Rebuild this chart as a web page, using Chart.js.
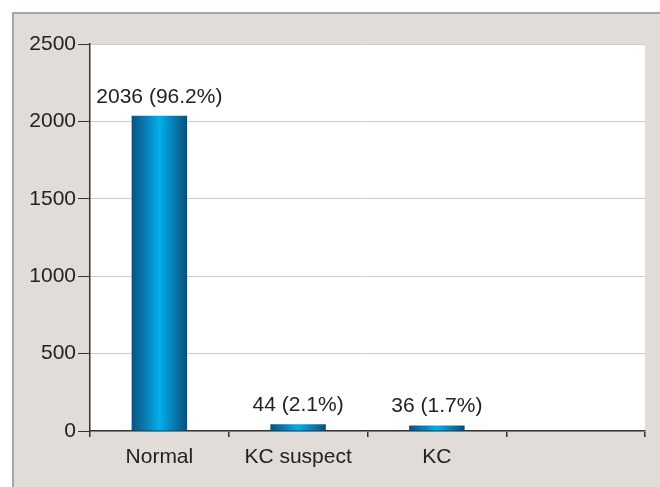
<!DOCTYPE html>
<html>
<head>
<meta charset="utf-8">
<script src="https://cdn.jsdelivr.net/npm/chart.js@4"></script>
<style>
html,body{margin:0;padding:0;background:#fff;}
#wrap{width:660px;height:487px;position:relative;}
</style>
</head>
<body>
<div id="wrap"><canvas id="c" width="660" height="487"></canvas></div>
<script>
const categories = ['Normal', 'KC suspect', 'KC', ''];
const counts = [2036, 44, 36, null];
const barLabels = ['2036 (96.2%)', '44 (2.1%)', '36 (1.7%)', ''];
const yTicks = [0, 500, 1000, 1500, 2000, 2500];

const FONT = "'Liberation Sans', Arial, Helvetica, sans-serif";
const TEXT = '#222222';

const framePlugin = {
  id: 'frame',
  beforeDraw(chart) {
    const c = chart.ctx;
    c.save();
    c.fillStyle = '#ffffff';
    c.fillRect(0, 0, chart.width, chart.height);
    c.fillStyle = '#e1dcd7';
    c.fillRect(12, 12, chart.width - 12, chart.height - 12);
    c.strokeStyle = '#a6a6a6';
    c.lineWidth = 2;
    c.beginPath();
    c.moveTo(13, chart.height);
    c.lineTo(13, 13);
    c.lineTo(chart.width, 13);
    c.stroke();
    const a = chart.chartArea;
    c.fillStyle = '#ffffff';
    c.fillRect(a.left, a.top, a.right - a.left, a.bottom - a.top);
    c.restore();
  }
};

const labelPlugin = {
  id: 'barLabels',
  afterDatasetsDraw(chart) {
    const c = chart.ctx;
    const meta = chart.getDatasetMeta(0);
    c.save();
    c.font = '21px ' + FONT;
    c.fillStyle = TEXT;
    c.textAlign = 'center';
    c.textBaseline = 'alphabetic';
    meta.data.forEach((el, i) => {
      if (!barLabels[i]) return;
      c.fillText(barLabels[i], el.x, el.y - 13);
    });
    c.restore();
  }
};

function barGradient(ctx) {
  const chart = ctx.chart;
  const xs = chart.scales && chart.scales.x;
  if (!chart.chartArea || !xs) return '#0a8fc8';
  const cx = xs.getPixelForValue(ctx.dataIndex);
  const catW = (chart.chartArea.right - chart.chartArea.left) / categories.length;
  const w = catW * 0.4;
  const g = chart.ctx.createLinearGradient(cx - w / 2, 0, cx + w / 2, 0);
  g.addColorStop(0, '#075380');
  g.addColorStop(0.2, '#0a74a8');
  g.addColorStop(0.5, '#00b0ec');
  g.addColorStop(0.8, '#0a74a8');
  g.addColorStop(1, '#064f7a');
  return g;
}

new Chart(document.getElementById('c'), {
  type: 'bar',
  data: {
    labels: categories,
    datasets: [{
      data: counts,
      backgroundColor: barGradient,
      borderWidth: 0,
      barPercentage: 0.5,
      categoryPercentage: 0.8
    }]
  },
  options: {
    responsive: false,
    animation: false,
    devicePixelRatio: 1,
    layout: { padding: { left: 0, right: 15, top: 44, bottom: 0 } },
    plugins: { legend: { display: false }, tooltip: { enabled: false } },
    scales: {
      x: {
        afterFit(s) { s.height = 56; },
        grid: { display: true, offset: true, drawOnChartArea: false, drawTicks: true, tickLength: 6, color: '#333333', lineWidth: 1.5 },
        border: { display: true, color: '#333333', width: 1.5 },
        ticks: { color: TEXT, font: { family: FONT, size: 21 }, padding: 8, maxRotation: 0 }
      },
      y: {
        min: 0, max: 2500,
        afterFit(s) { s.width = 90; },
        afterBuildTicks(s) { s.ticks = yTicks.map(v => ({ value: v })); },
        grid: { color: '#cfcfcf', lineWidth: 1, tickColor: '#333333', tickLength: 12, drawTicks: true },
        border: { display: true, color: '#333333', width: 1.5 },
        ticks: { color: TEXT, font: { family: FONT, size: 21 }, padding: 2, callback: v => String(v) }
      }
    }
  },
  plugins: [framePlugin, labelPlugin]
});
</script>
</body>
</html>
